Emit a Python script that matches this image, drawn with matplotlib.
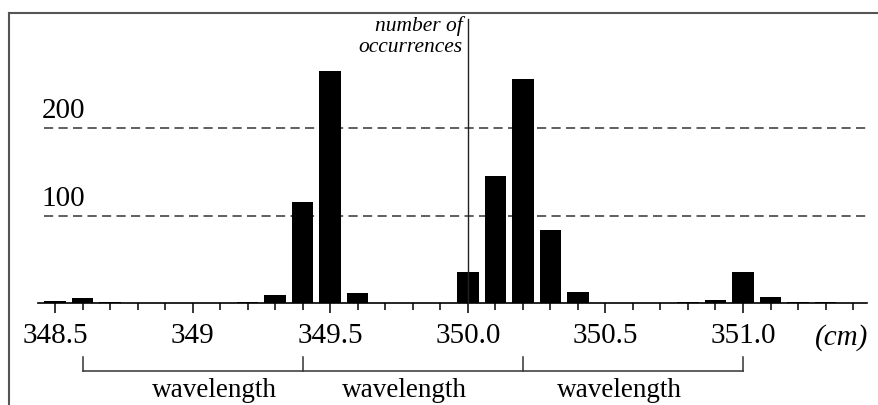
import numpy as np
from matplotlib import pyplot as plt

plt.rcParams['font.family'] = ['Liberation Serif', 'DejaVu Serif']

# bin centres (cm) and counts
positions = np.round(np.arange(348.5, 351.35, 0.1), 1)
counts = [2, 6, 1, 0, 0, 0, 0, 1, 9, 115, 265, 11, 0, 0, 0,
          35, 145, 256, 83, 13, 0, 0, 0, 1, 4, 36, 7, 1, 1]

major_ticks = [348.5, 349.0, 349.5, 350.0, 350.5, 351.0]
major_labels = ['348.5', '349', '349.5', '350.0', '350.5', '351.0']
minor_ticks = np.round(np.arange(348.5, 351.45, 0.1), 1)

grid_levels = [100, 200]
bracket_edges = [348.6, 349.4, 350.2, 351.0]
bracket_label_x = [349.08, 349.77, 350.55]

fig = plt.figure(figsize=(8.79, 4.05), dpi=100)
ax = fig.add_axes([9 / 879, 0, 870 / 879, 392 / 405])

px_x = 275.2   # pixels per cm
px_y = 0.875   # pixels per count
ax.set_xlim(348.5 - 46 / px_x, 348.5 - 46 / px_x + 870 / px_x)
ax.set_ylim(-102 / px_y, 290 / px_y)

frame_col = '#555555'
for lvl in grid_levels:
    ax.plot([348.46, 351.46], [lvl, lvl], color='#444444', lw=1.2,
            linestyle=(0, (5.5, 3.2)), zorder=1)
    ax.text(348.452, lvl + 11, str(lvl), fontsize=21, va='baseline', ha='left')

ax.bar(positions, counts, width=0.078, color='black', zorder=2)

# vertical reference line at 350.0
ax.plot([350.0, 350.0], [0, 325], color='#222222', lw=1, zorder=3)
ax.text(349.982, (290 - 18) / px_y, 'number of', fontstyle='italic', fontsize=15.5,
        ha='right', va='baseline')
ax.text(349.982, (290 - 39) / px_y, 'occurrences', fontstyle='italic', fontsize=15.5,
        ha='right', va='baseline')

# axes styling
ax.spines['right'].set_visible(False)
ax.spines['top'].set_color(frame_col)
ax.spines['left'].set_color(frame_col)
ax.spines['top'].set_linewidth(1.5)
ax.spines['left'].set_linewidth(1.5)
ax.spines['bottom'].set_position(('data', 0))
ax.spines['bottom'].set_bounds(348.44, 351.45)
ax.spines['bottom'].set_linewidth(1.2)
ax.set_yticks([])
ax.set_xticks(major_ticks)
ax.set_xticklabels(major_labels)
ax.set_xticks(minor_ticks, minor=True)
ax.tick_params(axis='x', which='major', direction='out', length=7.5, width=1.1,
               labelsize=21, pad=7)
ax.tick_params(axis='x', which='minor', direction='out', length=5, width=1.1)
ax.text(351.36, -40, '(cm)', fontstyle='italic', fontsize=21, ha='center', va='center')

# wavelength brackets
yb, yt = -77.7, -61.7
ax.plot([bracket_edges[0], bracket_edges[-1]], [yb, yb], color='#333333', lw=1.1)
for e in bracket_edges:
    ax.plot([e, e], [yb, yt], color='#333333', lw=1.1)
for xl in bracket_label_x:
    ax.text(xl, -107.4, 'wavelength', fontsize=19.5, ha='center', va='baseline')

fig.savefig('out.png', dpi=100)
